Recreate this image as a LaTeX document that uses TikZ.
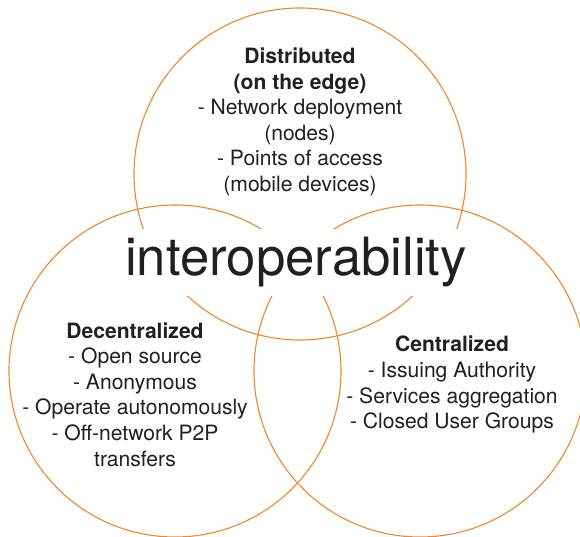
\documentclass[tikz,border=0pt]{standalone}
\usepackage{fontspec}
\setmainfont{TeX Gyre Heros}
\usepackage{tikz}
\usetikzlibrary{positioning}
\definecolor{VennOrange}{RGB}{243,135,45}
\definecolor{VennText}{RGB}{35,31,32}

\begin{document}
\begin{tikzpicture}[x=1cm, y=1cm,
    ring/.style={VennOrange, line width=0.8pt},
    listtext/.style={align=center, text=VennText, inner sep=0pt,
      font=\fontsize{15}{18.2}\selectfont}]
        \useasboundingbox (0,0) rectangle (14.5,13.4);
        % the three sets
        \draw[ring] (7.5,9.05) circle (4.15);
        \draw[ring] (4.375,4.125) circle (4.15);
        \draw[ring] (10.5,4.125) circle (4.15);
        % labels
        \node[listtext] (distributed) at (7.5,10.35)
          {\textbf{Distributed}\\\textbf{(on the edge)}\\- Network deployment\\(nodes)\\- Points of access\\(mobile devices)};
        \node[listtext] (decentral) at (3.375,3.54)
          {\textbf{Decentralized}\\- Open source\\- Anonymous\\- Operate autonomously\\- Off-network P2P\\transfers};
        \node[listtext] (central) at (11.3,3.78)
          {\textbf{Centralized}\\- Issuing Authority\\- Services aggregation\\- Closed User Groups};
        \node[text=VennText, fill=white, anchor=base, inner xsep=0.15cm, inner ysep=0.22cm,
          font=\fontsize{37.5}{40}\selectfont] (interop) at (7.4,6.5) {interoperability};
      \end{tikzpicture}
\end{document}
